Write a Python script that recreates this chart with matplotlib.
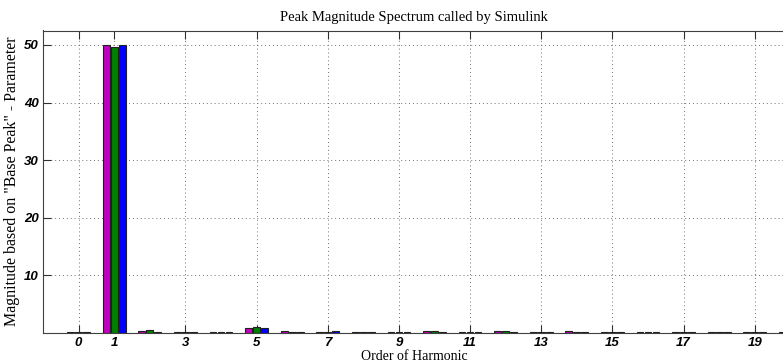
import numpy as np
import matplotlib.pyplot as plt

# harmonic orders and peak magnitudes of the three phases
harmonics = np.arange(0, 21)
phase_a = [0.15, 50.0, 0.35, 0.15, 0.15, 0.85, 0.3, 0.15, 0.15, 0.15, 0.35,
           0.15, 0.35, 0.15, 0.3, 0.15, 0.15, 0.15, 0.15, 0.15, 0.15]
phase_b = [0.25, 49.6, 0.45, 0.15, 0.15, 1.0, 0.15, 0.25, 0.15, 0.15, 0.35,
           0.15, 0.35, 0.15, 0.15, 0.15, 0.15, 0.15, 0.15, 0.15, 0.15]
phase_c = [0.15, 49.9, 0.15, 0.15, 0.15, 0.8, 0.15, 0.3, 0.15, 0.15, 0.15,
           0.15, 0.15, 0.15, 0.15, 0.15, 0.15, 0.15, 0.15, 0.15, 0.15]
xtick_vals = [0, 1, 3, 5, 7, 9, 11, 13, 15, 17, 19]
ytick_vals = [10, 20, 30, 40, 50]

fig = plt.figure(figsize=(7.83, 3.64), dpi=100)
ax = fig.add_axes([43/783, 31/364, 783/783, 302.5/364])

w = 0.19
off = 0.225
ax.bar(harmonics - off, phase_a, w, color='#bf00bf', edgecolor='#202020', linewidth=0.8, zorder=3)
ax.bar(harmonics, phase_b, w, color='#007f00', edgecolor='#202020', linewidth=0.8, zorder=3)
ax.bar(harmonics + off, phase_c, w, color='#0000ff', edgecolor='#202020', linewidth=0.8, zorder=3)

ax.set_xlim(-1, 21)
ax.set_ylim(0, 52.5)
ax.set_xticks(xtick_vals)
ax.set_yticks(ytick_vals)
tick_font = dict(family='Liberation Sans', weight='bold', style='italic', size=9.5)
ax.set_xticklabels([str(v) for v in xtick_vals], fontdict=tick_font)
ax.set_yticklabels([str(v) for v in ytick_vals], fontdict=tick_font)
ax.tick_params(direction='in', length=6, width=0.8, top=True, right=True,
               color='#303030', pad=3)
ax.grid(True, linestyle=(0, (1, 3)), color='#707070', linewidth=0.7, zorder=0)
ax.set_axisbelow(True)
for s in ax.spines.values():
    s.set_color('#404040')
    s.set_linewidth(0.8)

fig.text(414/783, 1 - 17/364, 'Peak Magnitude Spectrum called by Simulink',
         ha='center', va='center', family='Liberation Serif', size=10.5)
fig.text(414/783, 1 - 357/364, 'Order of Harmonic',
         ha='center', va='center', family='Liberation Serif', size=10)
fig.text(12/783, 1 - 181/364, 'Magnitude based on "Base Peak" - Parameter',
         ha='center', va='center', rotation=90, family='Liberation Serif', size=11.5)

fig.savefig('out.png', dpi=100)
